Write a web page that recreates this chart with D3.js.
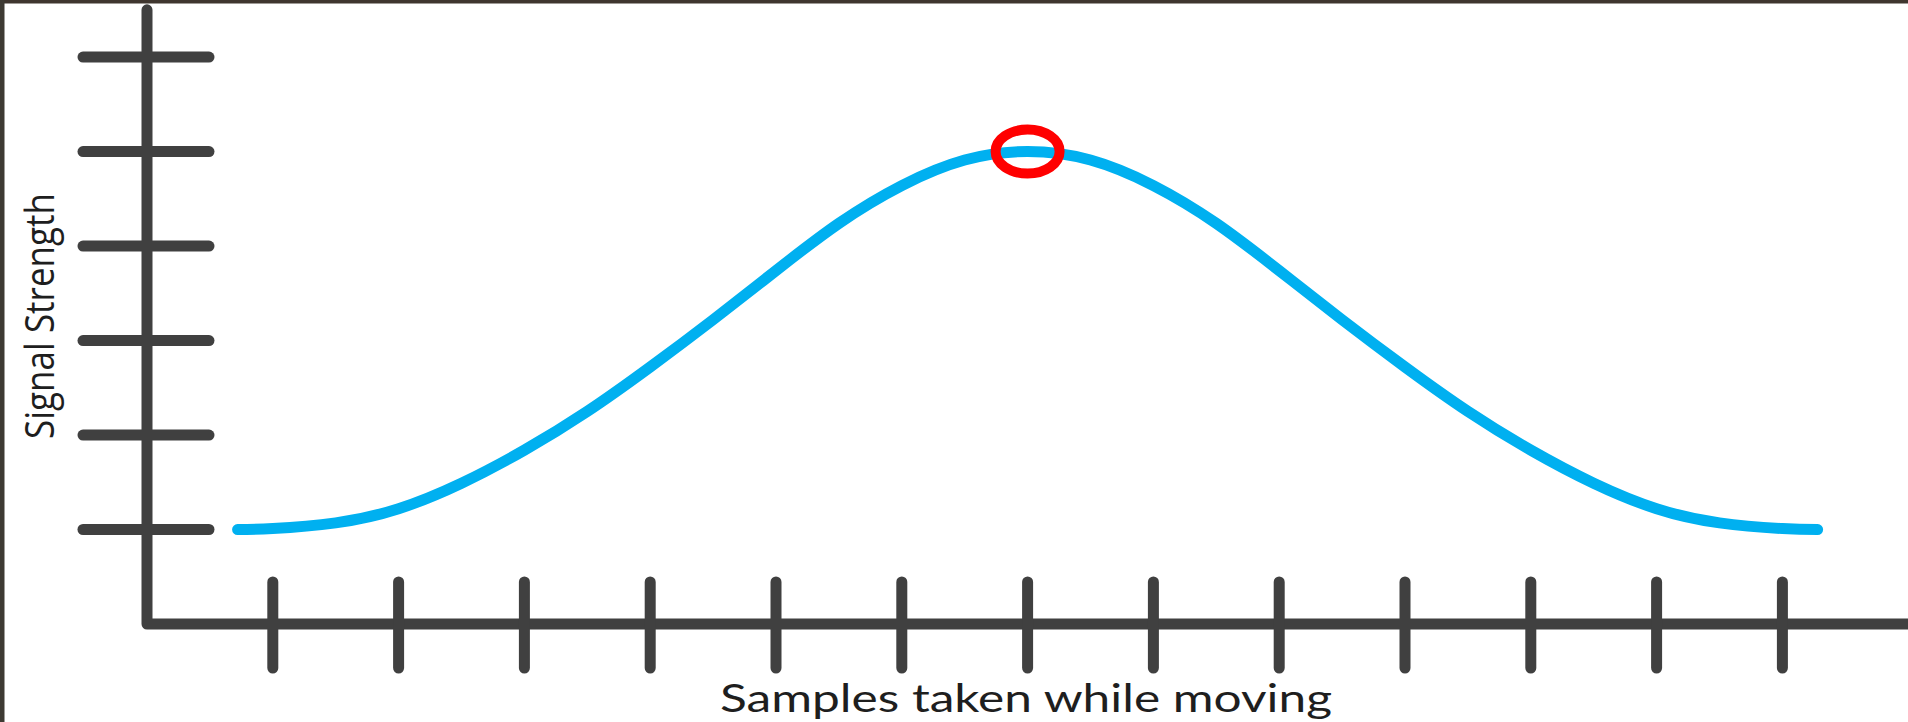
<!DOCTYPE html>
<html>
<head>
<meta charset="utf-8">
<script src="https://cdn.jsdelivr.net/npm/d3@7"></script>
<style>
  html, body { margin: 0; padding: 0; background: #ffffff; overflow: hidden; }
  svg { display: block; }
</style>
</head>
<body>
<svg id="chart" width="1908" height="722"></svg>
<script>
// ---- data ----
const xTicks = [1, 2, 3, 4, 5, 6, 7, 8, 9, 10, 11, 12, 13];
const yTicks = [0, 1, 2, 3, 4, 5];
const samplePos = [0.72, 1, 1.5, 2, 2.5, 3, 3.5, 4, 4.5, 5, 5.5, 6, 6.5, 7,
                   7.5, 8, 8.5, 9, 9.5, 10, 10.5, 11, 11.5, 12, 12.5, 13, 13.28];
const signal = [0.00, 0.01, 0.07, 0.22, 0.49, 0.84, 1.25, 1.72, 2.22, 2.74, 3.24, 3.64, 3.91, 4.00,
                3.91, 3.64, 3.24, 2.74, 2.22, 1.72, 1.25, 0.84, 0.49, 0.22, 0.07, 0.01, 0.00];
const peak = { x: 7, y: 4 };
const xLabel = "Samples taken while moving";
const yLabel = "Signal Strength";

// ---- layout ----
const W = 1908, H = 722;
const svg = d3.select("#chart");
const axisColor = "#404040";

const x = d3.scaleLinear().domain([0, 14]).range([147, 147 + 14 * 125.8]);
const y = d3.scaleLinear().domain([-1, 5.5]).range([624, 9.8]);

// frame (dark border at top and left)
svg.append("rect").attr("x", 0).attr("y", 0).attr("width", W).attr("height", 3.5).attr("fill", "#3f362f");
svg.append("rect").attr("x", 0).attr("y", 0).attr("width", 4.5).attr("height", H).attr("fill", "#3d3a33");

const g = svg.append("g");

// axis lines
const x0 = x(0), yBase = y(-1);
g.append("path")
  .attr("d", d3.line()([[x0, y(5.5)], [x0, yBase], [x(14) + 20, yBase]]))
  .attr("fill", "none")
  .attr("stroke", axisColor)
  .attr("stroke-width", 11)
  .attr("stroke-linejoin", "round")
  .attr("stroke-linecap", "round");

// y ticks (crossing the axis)
g.selectAll("line.ytick").data(yTicks).enter().append("line")
  .attr("class", "ytick")
  .attr("x1", x0 - 64).attr("x2", x0 + 62)
  .attr("y1", d => y(d)).attr("y2", d => y(d))
  .attr("stroke", axisColor).attr("stroke-width", 11).attr("stroke-linecap", "round");

// x ticks (crossing the axis)
g.selectAll("line.xtick").data(xTicks).enter().append("line")
  .attr("class", "xtick")
  .attr("x1", d => x(d)).attr("x2", d => x(d))
  .attr("y1", yBase - 42).attr("y2", yBase + 44)
  .attr("stroke", axisColor).attr("stroke-width", 11).attr("stroke-linecap", "round");

// signal curve
const pts = samplePos.map((p, i) => [p, signal[i]]);
g.append("path")
  .datum(pts)
  .attr("d", d3.line().x(d => x(d[0])).y(d => y(d[1])).curve(d3.curveNatural))
  .attr("fill", "none")
  .attr("stroke", "#00b0f0")
  .attr("stroke-width", 11)
  .attr("stroke-linecap", "round");

// peak marker
g.append("ellipse")
  .attr("cx", x(peak.x)).attr("cy", y(peak.y))
  .attr("rx", 32).attr("ry", 22)
  .attr("fill", "none")
  .attr("stroke", "#ff0000")
  .attr("stroke-width", 10);

// axis labels
svg.append("text")
  .attr("x", 1026).attr("y", 712)
  .attr("text-anchor", "middle")
  .attr("font-family", "Lato, 'Open Sans', sans-serif")
  .attr("font-size", 38)
  .attr("fill", "#1e1e1e")
  .attr("textLength", 612)
  .attr("lengthAdjust", "spacingAndGlyphs")
  .text(xLabel);

svg.append("text")
  .attr("transform", "translate(54,316) rotate(-90)")
  .attr("text-anchor", "middle")
  .attr("font-family", "'Liberation Sans Narrow', 'Open Sans', sans-serif")
  .attr("font-size", 40)
  .attr("fill", "#1e1e1e")
  .attr("textLength", 246)
  .attr("lengthAdjust", "spacingAndGlyphs")
  .text(yLabel);
</script>
</body>
</html>
